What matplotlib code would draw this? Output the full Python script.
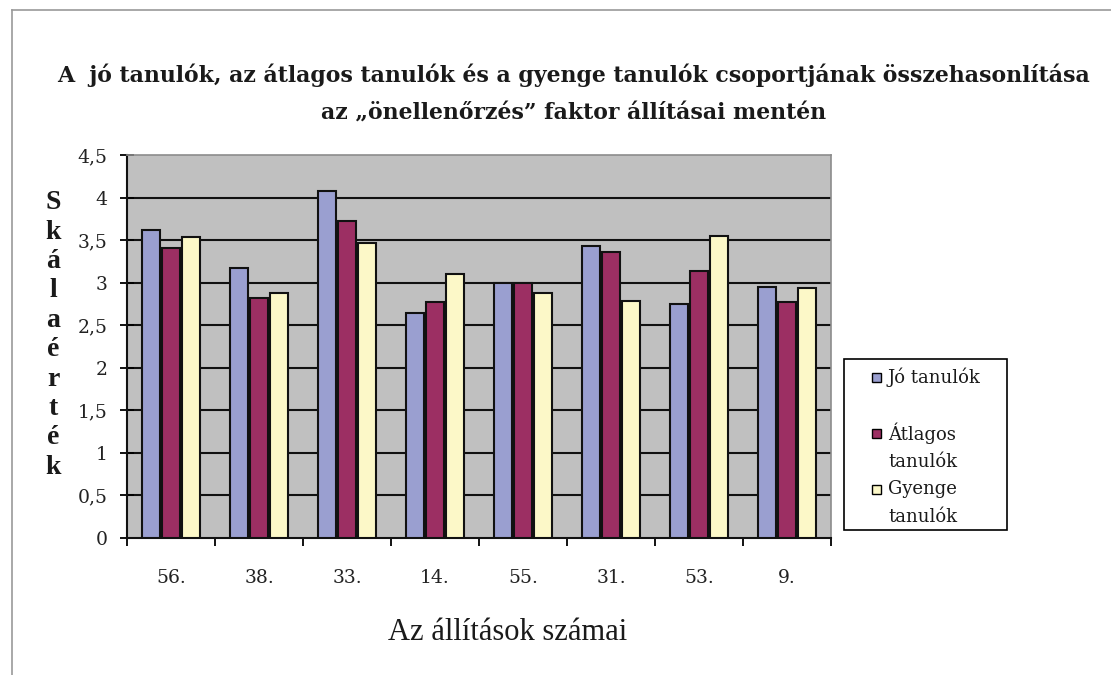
import numpy as np
import matplotlib.pyplot as plt
from matplotlib.patches import Rectangle
from matplotlib.lines import Line2D

plt.rcParams['font.family'] = ['DejaVu Serif']
TIMES = ['Liberation Serif', 'DejaVu Serif']

# data
categories = ["56.", "38.", "33.", "14.", "55.", "31.", "53.", "9."]
jo = [3.62, 3.17, 4.08, 2.64, 3.00, 3.43, 2.75, 2.95]
atlagos = [3.41, 2.82, 3.72, 2.77, 3.00, 3.36, 3.14, 2.77]
gyenge = [3.54, 2.88, 3.47, 3.10, 2.88, 2.79, 3.55, 2.94]
series_labels = ["Jó tanulók", "Átlagos\ntanulók", "Gyenge\ntanulók"]
colors = ["#9a9fd0", "#9c2f63", "#fcf8c8"]
yticks = [0, 0.5, 1, 1.5, 2, 2.5, 3, 3.5, 4, 4.5]

W, H = 1111, 675
fig = plt.figure(figsize=(W / 100, H / 100), dpi=100)

# outer frame of the image
fig.add_artist(Line2D([12 / W, 12 / W], [0, 1 - 10 / H], color="#9a9a9a", lw=1.2,
                      transform=fig.transFigure))
fig.add_artist(Line2D([12 / W, 1], [1 - 10 / H, 1 - 10 / H], color="#9a9a9a", lw=1.2,
                      transform=fig.transFigure))

left, right, top, bottom = 127, 831, 155, 538
ax = fig.add_axes([left / W, 1 - bottom / H, (right - left) / W, (bottom - top) / H])
ax.set_facecolor("#c0c0c0")

x = np.arange(len(categories))
w = 0.21
for i, (vals, c) in enumerate(zip([jo, atlagos, gyenge], colors)):
    ax.bar(x + (i - 1) * 0.225, vals, w, color=c, edgecolor="#111111", linewidth=1.5, zorder=3)

ax.set_xlim(-0.5, len(categories) - 0.5)
ax.set_ylim(0, 4.5)
ax.set_yticks(yticks)
ax.set_yticklabels([f"{t:g}".replace(".", ",") for t in yticks], fontsize=13.5, color="#222222")
for t in yticks[1:-1]:
    ax.axhline(t, color="#111111", lw=1.5, zorder=1)

ax.set_xticks(x)
ax.set_xticklabels(categories, fontsize=13.5, color="#222222")
ax.set_xticks(np.arange(-0.5, len(categories)), minor=True)
ax.tick_params(axis="x", which="major", length=0, pad=22)
ax.tick_params(axis="x", which="minor", length=6, width=1.3, direction="out")
ax.tick_params(axis="y", length=10, width=1.3, direction="inout", pad=9)

for s in ["top", "right"]:
    ax.spines[s].set_color("#8c8c8c")
    ax.spines[s].set_linewidth(1.2)
for s in ["left", "bottom"]:
    ax.spines[s].set_color("#111111")
    ax.spines[s].set_linewidth(1.5)

# title
fig.text(0.516, 1 - 75 / H, "A  jó tanulók, az átlagos tanulók és a gyenge tanulók csoportjának összehasonlítása",
         ha="center", va="center", fontsize=15.8, fontweight="bold", color="#1a1a1a")
fig.text(0.516, 1 - 113 / H, "az „önellenőrzés” faktor állításai mentén",
         ha="center", va="center", fontsize=15.8, fontweight="bold", color="#1a1a1a")

# axis labels
fig.text(508 / W, 1 - 632 / H, "Az állítások számai", ha="center", va="center",
         fontsize=22, family=TIMES, color="#1a1a1a")
fig.text(53 / W, 1 - 335 / H, "\n".join("Skálaérték"), ha="center", va="center",
         fontsize=20, fontweight="bold", linespacing=1.23, family=TIMES, color="#1a1a1a")

# legend box drawn by hand
fig.add_artist(Rectangle((844 / W, 1 - 530 / H), (1007 - 844) / W, (530 - 359) / H,
                         transform=fig.transFigure, facecolor="white", edgecolor="black", lw=1.2))
row_y = [[377], [433, 462], [489, 517]]
for lab, c, ys in zip(series_labels, colors, row_y):
    fig.add_artist(Rectangle((872 / W, 1 - (ys[0] + 5) / H), 9 / W, 9 / H, transform=fig.transFigure,
                             facecolor=c, edgecolor="black", lw=1))
    for line, yy in zip(lab.split("\n"), ys):
        fig.text(888 / W, 1 - yy / H, line, ha="left", va="center", fontsize=13, color="#1a1a1a")

fig.savefig("out.png", dpi=100)
